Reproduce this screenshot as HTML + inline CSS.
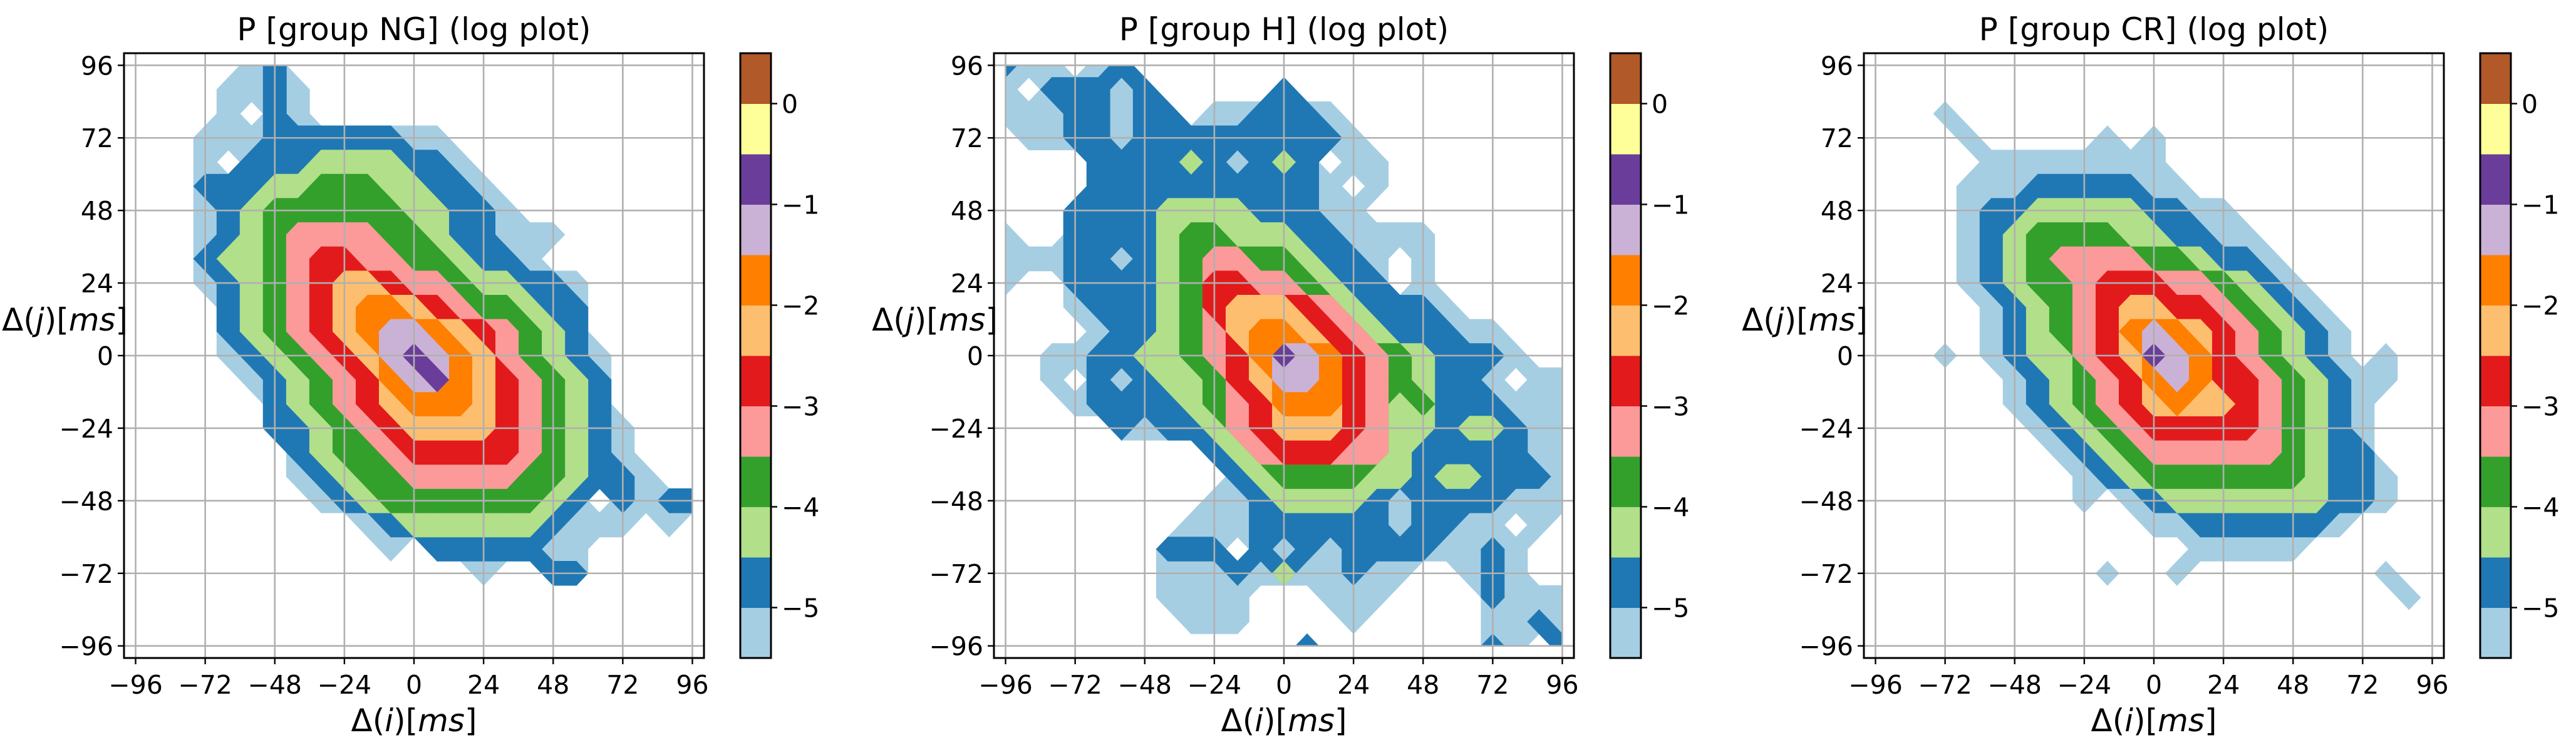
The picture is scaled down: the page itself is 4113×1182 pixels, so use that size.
<!DOCTYPE html>
<html><head><meta charset="utf-8"><style>
html,body{margin:0;padding:0;background:#fff;}
svg{display:block;font-family:"DejaVu Sans","Liberation Sans",sans-serif;}
</style></head>
<body>
<svg id="fig" width="4113" height="1182" viewBox="0 0 4113 1182" xmlns="http://www.w3.org/2000/svg"></svg>
<script>
// ---- data ----
const panelTitles = ["P [group NG]  (log plot)", "P [group H]  (log plot)", "P [group CR]  (log plot)"];
const gridCoords = [-96,-88,-80,-72,-64,-56,-48,-40,-32,-24,-16,-8,0,8,16,24,32,40,48,56,64,72,80,88,96];
const axisTicks = [-96,-72,-48,-24,0,24,48,72,96];
const cbarTicks = [0,-1,-2,-3,-4,-5];
const levelBounds = [-5.5,-5,-4.5,-4,-3.5,-3,-2.5,-2,-1.5,-1,-0.5,0,0.5];
const bandColors = ["#a6cee3","#1f78b4","#b2df8a","#33a02c","#fb9a99","#e31a1c","#fdbf6f","#ff7f00","#cab2d6","#6a3d9a","#ffff99","#b15928"];
// rows from y=96 (top) down to y=-96; each char = band index (0 = empty, a = 10)
const gridNG = [
"0000012000000000000000000","0000112100000000000000000","0000102100000000000000000",
"0001112222221100000000000","0001022233332210000000000","0002223344433221000000000",
"0001234444443322100000000","0001234555544322111000000","0002334566554432210000000",
"0001234567765543322100000","0000234567887654432200000","0000234567899876543200000",
"000012345679a987543210000","0000012345689a87654320000","0000002345678887654320000",
"0000002234567777654321000","0000000234456666654321000","0000000123445555544322100",
"0000000012344444443202122","0000000000123333332111010","0000000000010222221100000",
"0000000000000001002200000","0000000000000000000000000","0000000000000000000000000",
"0000000000000000000000000"];
const gridH = [
"2110120000000000000000000","1022212000002000000000000","1112212201122210000000000",
"0112212222222221000000000","0000222232123201100000000","0000222222222210100000000",
"0002222333322211000000000","1002222344333221111000000","1112212345544322101000000",
"1002222346655432201000000","0001222346777653222100000","0000122345788765322211000",
"001122334568a986543222100","0010212334679986543221011","0001222234568886534222111",
"0000021223567776533233211","0000000002356665532222211","0000000000234444332332221",
"0000000001123333212222111","0000000011122222212211010","0000000222021212222112100",
"0000000111213112110012100","0000000111100011100002111","0000000011100001000001121",
"0000000000000200000002102"];
const gridCR = [
"0000000000000000000000000","0000000000000000000000000","0001000000000000000000000",
"0000100000101000000000000","0000011111111000000000000","0000111222221100000000000",
"0000122333332211000000000","0000123444433221100000000","0000123455554432210000000",
"0000123445666554321000000","0000012345677665432100000","0000012345689876543210000",
"000101233567a986543210100","0000001234568986654321100","0000001234567877654321000",
"0000000123456666654321000","0000000012345555554322000","0000000001234444444322100",
"0000000001012333333322100","0000000000001122222210000","0000000000000011111000000",
"0000000000100100000000100","0000000000000000000000010","0000000000000000000000000",
"0000000000000000000000000"];
const panelGrids = [gridNG, gridH, gridCR];
const panelNames = ["ng","h","cr"];

// ---- layout ----
const NS = "http://www.w3.org/2000/svg";
const svg = document.getElementById("fig");
const AX_TOP = 85, AX_H = 966, AX_W = 926, PANEL_DX = 1389, AX_L0 = 198;
const XMIN = -100, XMAX = 100, YMIN = -100, YMAX = 100;
function mk(tag, attrs, parent){
  const e = document.createElementNS(NS, tag);
  for (const k in attrs) e.setAttribute(k, attrs[k]);
  (parent||svg).appendChild(e);
  return e;
}
function fmt(v){ return v < 0 ? "\u2212" + Math.abs(v) : String(v); }

panelGrids.forEach((grid, p) => {
  const L = AX_L0 + p*PANEL_DX;
  const xs = d => L + (d - XMIN)/(XMAX - XMIN)*AX_W;
  const ys = d => AX_TOP + (YMAX - d)/(YMAX - YMIN)*AX_H;
  const N = gridCoords.length;
  const val = (r, c) => parseInt(grid[r][c], 16);
  const g = mk("g", {});
  
  

  // filled contours (marching squares, cumulative levels)
  const fill = mk("g", {}, g);
  
  
  for (let lv = 1; lv <= 10; lv++) {
    let d = "";
    for (let r = 0; r < N-1; r++) {
      for (let c = 0; c < N-1; c++) {
        // corners: tl, tr, br, bl as [row, col]
        const cs = [[r,c],[r,c+1],[r+1,c+1],[r+1,c]];
        const ins = cs.map(([rr,cc]) => val(rr,cc) >= lv);
        if (!ins.some(x => x)) continue;
        const pts = [];
        for (let k = 0; k < 4; k++) {
          const [r1,c1] = cs[k], [r2,c2] = cs[(k+1)%4];
          const px1 = xs(gridCoords[c1]), py1 = ys(gridCoords[N-1-r1]);
          const px2 = xs(gridCoords[c2]), py2 = ys(gridCoords[N-1-r2]);
          if (ins[k]) pts.push([px1, py1]);
          if (ins[k] !== ins[(k+1)%4]) pts.push([(px1+px2)/2, (py1+py2)/2]);
        }
        d += "M" + pts.map(q => q[0].toFixed(1) + "," + q[1].toFixed(1)).join("L") + "Z";
      }
    }
    if (d) {
      const path = mk("path", {d: d, fill: bandColors[lv-1], stroke: bandColors[lv-1], "stroke-width": 0.8}, fill);
      
      
    }
  }

  // grid lines & ticks
  axisTicks.forEach(t => {
    const gx = mk("line", {x1: xs(t), x2: xs(t), y1: AX_TOP, y2: AX_TOP+AX_H, stroke: "#b0b0b0", "stroke-width": 2.6}, g);
    
    
    const gy = mk("line", {x1: L, x2: L+AX_W, y1: ys(t), y2: ys(t), stroke: "#b0b0b0", "stroke-width": 2.6}, g);
    
    
    mk("line", {x1: xs(t), x2: xs(t), y1: AX_TOP+AX_H, y2: AX_TOP+AX_H+10, stroke: "#000", "stroke-width": 2.4}, g);
    mk("line", {x1: L-10, x2: L, y1: ys(t), y2: ys(t), stroke: "#000", "stroke-width": 2.4}, g);
    const xl = mk("text", {x: xs(t), y: 1108, "font-size": 41, "text-anchor": "middle"}, g);
    xl.textContent = fmt(t);
    
    
    const yl = mk("text", {x: L-17, y: ys(t)+15, "font-size": 41, "text-anchor": "end"}, g);
    yl.textContent = fmt(t);
    
    
  });

  const fr = mk("rect", {x: L, y: AX_TOP, width: AX_W, height: AX_H, fill: "none", stroke: "#000", "stroke-width": 3}, g);
  
  

  const tt = mk("text", {x: L + AX_W/2, y: 64, "font-size": 50, "text-anchor": "middle", "xml:space": "preserve"}, g);
  tt.textContent = panelTitles[p];
  
  

  const xt = mk("text", {x: L + AX_W/2, y: 1168, "font-size": 50, "text-anchor": "middle"}, g);
  xt.innerHTML = 'Δ(<tspan font-style="italic">i</tspan>)[<tspan font-style="italic">ms</tspan>]';
  
  

  const yt = mk("text", {x: L + 6, y: 528, "font-size": 50, "text-anchor": "end"}, g);
  yt.innerHTML = 'Δ(<tspan font-style="italic">j</tspan>)[<tspan font-style="italic">ms</tspan>]';
  
  

  // colorbar
  const cbL = L + 984, cbW = 49;
  const cs = v => AX_TOP + (levelBounds[levelBounds.length-1] - v)/(levelBounds[levelBounds.length-1] - levelBounds[0])*AX_H;
  const cb = mk("g", {"shape-rendering": "crispEdges"}, g);
  
  
  for (let i = 0; i < bandColors.length; i++) {
    const y0 = cs(levelBounds[i+1]), y1 = cs(levelBounds[i]);
    const b = mk("rect", {x: cbL, y: y0.toFixed(1), width: cbW, height: (y1-y0+0.6).toFixed(1), fill: bandColors[i]}, cb);
    
    
  }
  mk("rect", {x: cbL, y: AX_TOP, width: cbW, height: AX_H, fill: "none", stroke: "#000", "stroke-width": 3}, g);
  cbarTicks.forEach(v => {
    mk("line", {x1: cbL+cbW, x2: cbL+cbW+10, y1: cs(v), y2: cs(v), stroke: "#000", "stroke-width": 2.4}, g);
    const t = mk("text", {x: cbL+cbW+17, y: cs(v)+15, "font-size": 41}, g);
    t.textContent = fmt(v);
    
    
  });
});
</script>
</body></html>
